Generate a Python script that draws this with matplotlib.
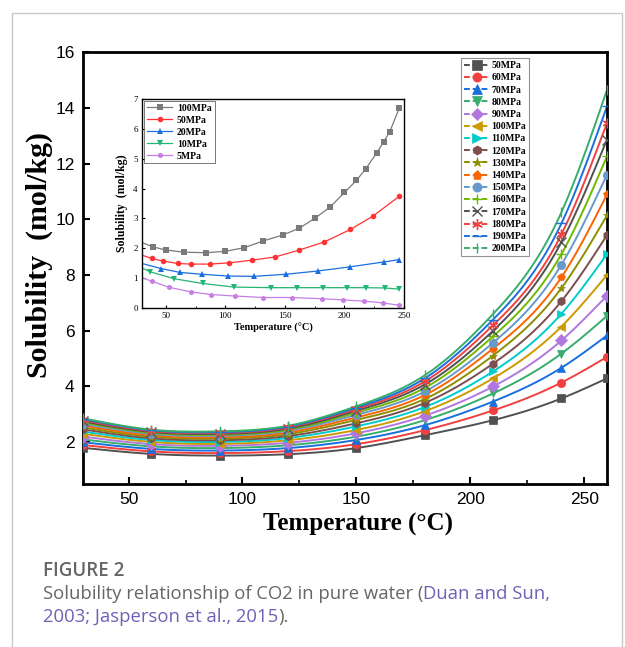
import numpy as np
import matplotlib
matplotlib.use("Agg")
import matplotlib.pyplot as plt
from matplotlib.patches import Rectangle

# ---------------------------------------------------
# data
# ---------------------------------------------------
temps = [30, 60, 90, 120, 150, 180, 210, 240, 260]
pressures = [50, 60, 70, 80, 90, 100, 110, 120, 130, 140, 150, 160, 170, 180, 190, 200]

sol_50 = [1.80, 1.58, 1.52, 1.57, 1.79, 2.25, 2.79, 3.57, 4.29]
sol_60 = [1.90, 1.67, 1.61, 1.68, 1.93, 2.43, 3.14, 4.14, 5.06]
sol_70 = [2.00, 1.76, 1.70, 1.79, 2.08, 2.61, 3.46, 4.67, 5.83]
sol_80 = [2.10, 1.85, 1.79, 1.89, 2.20, 2.79, 3.75, 5.18, 6.53]
sol_90 = [2.20, 1.93, 1.87, 1.98, 2.32, 2.95, 4.00, 5.65, 7.26]
sol_100 = [2.30, 2.01, 1.94, 2.07, 2.44, 3.11, 4.29, 6.15, 8.00]
sol_110 = [2.38, 2.08, 2.01, 2.15, 2.57, 3.26, 4.54, 6.61, 8.75]
sol_120 = [2.46, 2.14, 2.07, 2.22, 2.68, 3.41, 4.82, 7.06, 9.43]
sol_130 = [2.53, 2.20, 2.13, 2.29, 2.80, 3.55, 5.11, 7.53, 10.14]
sol_140 = [2.60, 2.25, 2.18, 2.35, 2.89, 3.69, 5.36, 7.92, 10.89]
sol_150 = [2.66, 2.30, 2.23, 2.41, 2.98, 3.82, 5.57, 8.37, 11.60]
sol_160 = [2.71, 2.34, 2.27, 2.45, 3.06, 3.95, 5.80, 8.75, 12.26]
sol_170 = [2.75, 2.37, 2.30, 2.49, 3.13, 4.07, 6.00, 9.18, 12.86]
sol_180 = [2.79, 2.40, 2.33, 2.53, 3.19, 4.18, 6.20, 9.46, 13.45]
sol_190 = [2.83, 2.43, 2.36, 2.56, 3.24, 4.29, 6.40, 9.85, 14.05]
sol_200 = [2.86, 2.45, 2.39, 2.59, 3.29, 4.40, 6.60, 10.25, 14.64]
main_series = [sol_50, sol_60, sol_70, sol_80, sol_90, sol_100, sol_110, sol_120,
               sol_130, sol_140, sol_150, sol_160, sol_170, sol_180, sol_190, sol_200]

# inset (Duan and Sun model, lower pressures)
ins_t_100 = [39, 50, 65, 84, 100, 116, 132, 148, 162, 175, 188, 200, 210, 218, 227, 233, 238, 246]
ins_s_100 = [2.05, 1.94, 1.87, 1.85, 1.90, 2.02, 2.25, 2.44, 2.67, 3.00, 3.38, 3.87, 4.27, 4.67, 5.19, 5.57, 5.90, 6.69]
ins_t_50 = [38, 48, 60, 71, 87, 103, 122, 142, 162, 183, 205, 224, 246]
ins_s_50 = [1.66, 1.57, 1.49, 1.47, 1.47, 1.51, 1.60, 1.71, 1.94, 2.21, 2.63, 3.08, 3.74]
ins_t_20 = [46, 62, 80, 102, 124, 151, 178, 205, 233, 246]
ins_s_20 = [1.32, 1.19, 1.13, 1.07, 1.06, 1.13, 1.24, 1.38, 1.54, 1.62]
ins_t_10 = [37, 57, 81, 107, 138, 160, 182, 202, 218, 234, 246]
ins_s_10 = [1.21, 0.98, 0.82, 0.70, 0.68, 0.68, 0.68, 0.68, 0.68, 0.67, 0.63]
ins_t_5 = [38, 53, 71, 88, 108, 132, 156, 181, 199, 216, 232, 246]
ins_s_5 = [0.90, 0.69, 0.54, 0.45, 0.40, 0.35, 0.35, 0.31, 0.27, 0.23, 0.17, 0.09]
ins_start = [2.19, 1.77, 1.49, 1.34, 1.01]   # values at the left edge (30 C)
ins_labels = ["100MPa", "50MPa", "20MPa", "10MPa", "5MPa"]

# Origin style palette
colors = ["#515151", "#F14040", "#1A6FDF", "#37AD6B", "#B177DE", "#CC9900",
          "#00CBCC", "#7D4E4E", "#8E8E00", "#FB6501", "#6699CC", "#6FB802",
          "#515151", "#F14040", "#1A6FDF", "#37AD6B"]
markers = ["s", "o", "^", "v", "D", "<", ">", "h", "*", "p", "o", "+", "x", (6, 2, 0), "_", "|"]


def spline(xs, ys, n=300):
    # natural cubic spline, just to draw the smooth curve through the points
    xs = np.asarray(xs, float)
    ys = np.asarray(ys, float)
    k = len(xs)
    h = np.diff(xs)
    A = np.zeros((k, k))
    b = np.zeros(k)
    A[0, 0] = A[-1, -1] = 1
    for i in range(1, k - 1):
        A[i, i - 1] = h[i - 1]
        A[i, i] = 2 * (h[i - 1] + h[i])
        A[i, i + 1] = h[i]
        b[i] = 6 * ((ys[i + 1] - ys[i]) / h[i] - (ys[i] - ys[i - 1]) / h[i - 1])
    M = np.linalg.solve(A, b)
    xx = np.linspace(xs[0], xs[-1], n)
    idx = np.clip(np.searchsorted(xs, xx) - 1, 0, k - 2)
    x0, x1 = xs[idx], xs[idx + 1]
    hh = x1 - x0
    t0, t1 = x1 - xx, xx - x0
    yy = (M[idx] * t0 ** 3 + M[idx + 1] * t1 ** 3) / (6 * hh) \
        + (ys[idx] / hh - M[idx] * hh / 6) * t0 + (ys[idx + 1] / hh - M[idx + 1] * hh / 6) * t1
    return xx, yy


plt.rcParams['font.family'] = ['Liberation Serif', 'DejaVu Serif']

fig = plt.figure(figsize=(6.25, 6.47), dpi=100)

# outer light frame of the figure panel
fig.patches.append(Rectangle((12 / 625, -0.05), 610 / 625, 1 - 13 / 647 + 0.05,
                             transform=fig.transFigure, fill=False,
                             edgecolor="#C8C8C8", linewidth=1.0))

ax = fig.add_axes([0.1328, 0.2519, 0.8384, 0.6677])
for i, p in enumerate(pressures):
    xx, yy = spline(temps, main_series[i])
    ax.plot(xx, yy, color=colors[i], linewidth=1.4, zorder=2)
    thin = markers[i] in ("+", "x", "_", "|", (6, 2, 0))
    ms = 7 if thin else 6
    mew = 1.0 if thin else 0.5
    ax.plot(temps, main_series[i], linestyle="none", marker=markers[i], markersize=ms,
            color=colors[i], markeredgewidth=mew, zorder=3)
    # legend proxy
    ax.plot([], [], color=colors[i], linewidth=1.4, linestyle=(0, (3, 1.5)),
            marker=markers[i], markersize=ms, markeredgewidth=mew, label=f"{p}MPa")

ax.set_xlim(30, 260)
ax.set_ylim(0.5, 16)
ax.set_xticks([50, 100, 150, 200, 250])
ax.set_xticks([75, 125, 175, 225], minor=True)
ax.set_yticks([2, 4, 6, 8, 10, 12, 14, 16])
ax.tick_params(direction="in", width=1.5, length=5, labelsize=12.5, pad=6,
               labelfontfamily="Liberation Sans")
ax.tick_params(which="minor", direction="in", width=1.2, length=3)
for s in ax.spines.values():
    s.set_linewidth(2.0)
ax.set_xlabel("Temperature (°C)", fontsize=18, fontweight="bold", labelpad=4)
ax.set_ylabel("Solubility  (mol/kg)", fontsize=21.5, fontweight="bold", labelpad=2)
ax.xaxis.label.set_x(0.525)
ax.yaxis.label.set_y(0.53)

leg = ax.legend(loc="upper right", bbox_to_anchor=(0.855, 0.99),
                prop={"weight": "bold", "size": 7}, handlelength=2.6,
                labelspacing=0.33, borderpad=0.3, handletextpad=0.2,
                markerscale=1.1, frameon=True, fancybox=False, borderaxespad=0.2)
leg.get_frame().set_edgecolor("#777777")
leg.get_frame().set_linewidth(0.8)

# inset
ins = fig.add_axes([0.2272, 0.524, 0.4192, 0.323])
ins_t = [ins_t_100, ins_t_50, ins_t_20, ins_t_10, ins_t_5]
ins_s = [ins_s_100, ins_s_50, ins_s_20, ins_s_10, ins_s_5]
ins_colors = ["#7A7A7A", "#FF3333", "#1A6FDF", "#22B573", "#C77FE6"]
ins_markers = ["s", "o", "^", "v", "h"]
for i in range(5):
    xs = [30] + ins_t[i]
    ys = [ins_start[i]] + ins_s[i]
    ins.plot(xs, ys, color=ins_colors[i], linewidth=0.9)
    ins.plot(ins_t[i], ins_s[i], linestyle="none", marker=ins_markers[i], markersize=4,
             color=ins_colors[i], markeredgewidth=0)
    ins.plot([], [], color=ins_colors[i], linewidth=0.9, marker=ins_markers[i],
             markersize=4, markeredgewidth=0, label=ins_labels[i])
ins.set_xlim(30, 250)
ins.set_ylim(0, 7)
ins.set_xticks([50, 100, 150, 200, 250])
ins.set_xticks([75, 125, 175, 225], minor=True)
ins.set_yticks(range(8))
ins.tick_params(direction="in", width=0.8, length=2.5, labelsize=6.5, pad=3)
ins.tick_params(which="minor", direction="in", width=0.6, length=1.5)
for s in ins.spines.values():
    s.set_linewidth(1.0)
ins.set_xlabel("Temperature (°C)", fontsize=7.5, fontweight="bold", labelpad=2)
ins.set_ylabel("Solubility  (mol/kg)", fontsize=8.5, fontweight="bold", labelpad=4)
ileg = ins.legend(loc="upper left", prop={"weight": "bold", "size": 7}, handlelength=2.6,
                  labelspacing=0.3, borderpad=0.3, handletextpad=0.5,
                  frameon=True, fancybox=False, borderaxespad=0.2)
ileg.get_frame().set_edgecolor("#555555")
ileg.get_frame().set_linewidth(0.7)

# caption
cap_font = ["Open Sans", "DejaVu Sans"]
grey = "#666666"
link = "#6B63B5"
fig.text(43 / 625, 1 - 571 / 647, "FIGURE 2", fontsize=13.5, color=grey, fontweight="semibold",
         family=cap_font, va="center")
fig.canvas.draw()
rend = fig.canvas.get_renderer()


def line_parts(y_px, parts):
    x = 43 / 625
    for txt, col in parts:
        t = fig.text(x, 1 - y_px / 647, txt, fontsize=13.3, color=col, family=cap_font, va="center")
        bb = t.get_window_extent(renderer=rend)
        x += bb.width / fig.bbox.width


line_parts(594, [("Solubility relationship of CO2 in pure water (", grey),
                 ("Duan and Sun,", link)])
line_parts(617, [("2003; Jasperson et al., 2015", link), (").", grey)])

fig.savefig("out.png", dpi=100)
